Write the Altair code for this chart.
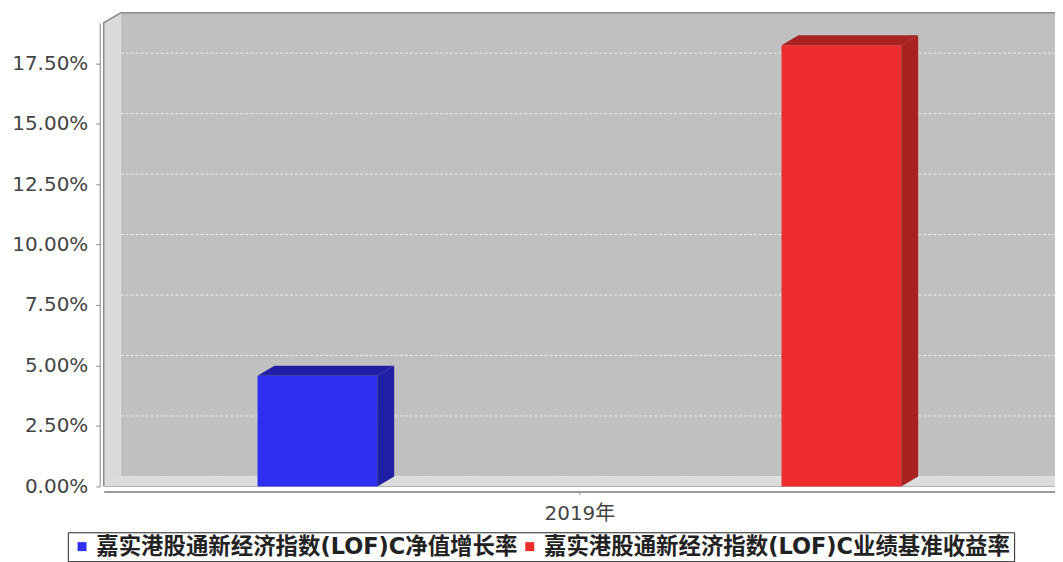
import altair as alt
import pandas as pd

# ---------------- data ----------------
categories = ["2019年"]
series = ["嘉实港股通新经济指数(LOF)C净值增长率", "嘉实港股通新经济指数(LOF)C业绩基准收益率"]
values = [4.58, 18.24]
y_ticks = [0, 2.5, 5, 7.5, 10, 12.5, 15, 17.5]

# ---------------- style / layout ----------------
front_colors = ["#2F2FF0", "#EE2E2E"]
dark_colors = ["#2020A6", "#A82222"]
W, H = 954, 465
Y_MAX = 19.17
DX_PX, DY_PX = 17, 10
dxu = DX_PX / W
dyu = DY_PX * Y_MAX / H
CAT_CENTER = 0.5
SERIES_OFFSET = [-0.2754, 0.2754]
BAR_W = 0.1258

FONT = "DejaVu Sans, Noto Sans CJK SC"

xs = alt.Scale(domain=[0, 1], nice=False, zero=False)
ys = alt.Scale(domain=[0, Y_MAX], nice=False, zero=False)

x_axis = alt.Axis(values=[CAT_CENTER], labelExpr="'" + categories[0] + "'",
                  title=None, grid=False, offset=5, domainColor="#9A9A9A",
                  domainWidth=2, tickColor="#888888", tickSize=3,
                  labelFont=FONT, labelFontSize=20, labelColor="#444444",
                  labelPadding=9)
y_axis = alt.Axis(values=y_ticks, labelExpr="format(datum.value, '.2f') + '%'",
                  title=None, grid=False, offset=4, domainColor="#888888",
                  tickColor="#888888", tickSize=4, labelFont=FONT,
                  labelFontSize=20, labelColor="#444444", labelPadding=8)


def X(f="x"):
    return alt.X(f + ":Q", scale=xs, axis=x_axis)


def Y(f="y"):
    return alt.Y(f + ":Q", scale=ys, axis=y_axis)


def poly(points, color):
    """vertical area polygon: points = [(x, y_low, y_high), ...] sorted by x"""
    df = pd.DataFrame(points, columns=["x", "y", "y2"])
    return alt.Chart(df).mark_area(color=color, opacity=1, interpolate="linear").encode(
        x=X(), y=Y(), y2="y2:Q")


# back wall
back = pd.DataFrame([{"x": dxu, "x2": 1 + dxu, "y": dyu, "y2": Y_MAX + dyu}])
back_layer = alt.Chart(back).mark_rect(color="#C0C0C0", opacity=1).encode(
    x=X(), x2="x2:Q", y=Y(), y2="y2:Q")

# gridlines on the back wall
grid = pd.DataFrame({"y": [t + dyu for t in y_ticks], "x": dxu, "x2": 1 + dxu})
grid_layer = alt.Chart(grid).mark_rule(color="#EDEDED", strokeDash=[3, 2], strokeWidth=1,
                                       opacity=1).encode(x=X(), x2="x2:Q", y=Y())

left_wall = poly([(0, 0, Y_MAX), (dxu, dyu, Y_MAX + dyu)], "#DADADA")
floor = poly([(0, 0, 0), (dxu, 0, dyu), (1, 0, dyu), (1 + dxu, dyu, dyu)], "#DCDCDC")

# outline
outline = pd.DataFrame([
    {"o": 0, "x": 0, "y": 0},
    {"o": 1, "x": 0, "y": Y_MAX},
    {"o": 2, "x": dxu, "y": Y_MAX + dyu},
    {"o": 3, "x": 1 + dxu, "y": Y_MAX + dyu},
])
outline_layer = alt.Chart(outline).mark_line(strokeWidth=1.5, color="#8C8C8C", opacity=1).encode(
    x=X(), y=Y(), order="o:Q")
floor_edge = pd.DataFrame([
    {"o": 0, "x": 0, "y": 0},
    {"o": 1, "x": 1, "y": 0},
    {"o": 2, "x": 1 + dxu, "y": dyu},
])
floor_edge_layer = alt.Chart(floor_edge).mark_line(strokeWidth=1, color="#B0B0B0", opacity=1).encode(
    x=X(), y=Y(), order="o:Q")

# bars: front faces + 3D faces
rows = []
face_layers = []
for i, (s, v) in enumerate(zip(series, values)):
    c = CAT_CENTER + SERIES_OFFSET[i]
    x0, x1 = c - BAR_W / 2, c + BAR_W / 2
    rows.append({"series": s, "x": x0, "x2": x1, "y": 0, "y2": v})
    d = dark_colors[i]
    face_layers.append(poly([(x0, v, v), (x0 + dxu, v, v + dyu), (x1, v, v + dyu),
                             (x1 + dxu, v + dyu, v + dyu)], d))
    face_layers.append(poly([(x1, 0, v), (x1 + dxu, dyu, v + dyu)], d))
bars = pd.DataFrame(rows)

bar_layer = alt.Chart(bars).mark_rect(opacity=1).encode(
    x=X(), x2="x2:Q", y=Y(), y2="y2:Q",
    color=alt.Color("series:N",
                    scale=alt.Scale(domain=series, range=front_colors),
                    legend=alt.Legend(title=None, orient="none", legendX=-36, legendY=511,
                                      direction="horizontal", symbolType="square",
                                      symbolSize=81, symbolStrokeWidth=0,
                                      labelFont=FONT, labelFontSize=22.5,
                                      labelFontWeight="bold", labelColor="#222222",
                                      labelLimit=800, labelOffset=3, columnPadding=0,
                                      padding=3, strokeColor="#222222",
                                      fillColor="#FFFFFF")),
)

chart = alt.layer(back_layer, grid_layer, left_wall, floor, outline_layer, floor_edge_layer,
                  bar_layer, *face_layers).properties(
    width=W, height=H,
    autosize=alt.AutoSizeParams(type="none"),
    padding={"left": 96, "top": 14, "right": 0, "bottom": 75},
    background="#FFFFFF",
).configure_view(strokeWidth=0)

chart.save("out.html", embed_options={"renderer": "svg", "actions": False})
